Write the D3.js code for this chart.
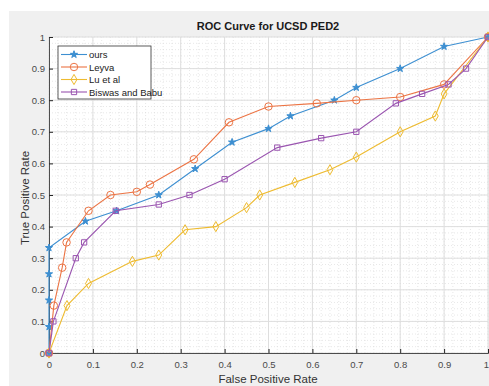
<!DOCTYPE html>
<html>
<head>
<meta charset="utf-8">
<script src="https://d3js.org/d3.v7.min.js"></script>
<style>
  body { margin: 0; background: #fff; }
  text { font-family: "Liberation Sans", Arial, sans-serif; }
</style>
</head>
<body>
<div id="chart"></div>
<script>
// ROC data
const oursX = [0, 0, 0, 0, 0, 0.083, 0.154, 0.25, 0.333, 0.417, 0.5, 0.55, 0.65, 0.7, 0.8, 0.9, 1];
const oursY = [0, 0.083, 0.167, 0.25, 0.333, 0.417, 0.45, 0.5, 0.583, 0.667, 0.71, 0.75, 0.80, 0.84, 0.9, 0.97, 1];
const leyvaX = [0, 0.011, 0.03, 0.04, 0.09, 0.14, 0.2, 0.23, 0.33, 0.41, 0.5, 0.61, 0.7, 0.8, 0.9, 1];
const leyvaY = [0, 0.15, 0.27, 0.35, 0.45, 0.5, 0.51, 0.533, 0.613, 0.73, 0.78, 0.79, 0.80, 0.81, 0.85, 1];
const luX = [0, 0.041, 0.09, 0.19, 0.25, 0.31, 0.38, 0.45, 0.48, 0.56, 0.64, 0.7, 0.8, 0.88, 0.9, 1];
const luY = [0, 0.15, 0.22, 0.29, 0.31, 0.39, 0.40, 0.46, 0.50, 0.54, 0.58, 0.62, 0.70, 0.75, 0.82, 1];
const biswasX = [0, 0.01, 0.061, 0.08, 0.152, 0.25, 0.32, 0.40, 0.52, 0.62, 0.70, 0.79, 0.85, 0.91, 0.95, 1];
const biswasY = [0, 0.10, 0.30, 0.35, 0.45, 0.47, 0.50, 0.55, 0.65, 0.68, 0.70, 0.79, 0.82, 0.85, 0.90, 1];

const seriesNames = ["ours", "Leyva", "Lu et al", "Biswas and Babu"];
const tickValues = [0, 0.1, 0.2, 0.3, 0.4, 0.5, 0.6, 0.7, 0.8, 0.9, 1];

const series = [
    { name: seriesNames[0], xs: oursX, ys: oursY, color: "#3d8fd1", symbol: d3.symbolStar, fill: true, size: 16 },
    { name: seriesNames[1], xs: leyvaX, ys: leyvaY, color: "#ec7444", symbol: d3.symbolCircle, fill: false, size: 44 },
    { name: seriesNames[2], xs: luX, ys: luY, color: "#eebb30", symbol: d3.symbolDiamond, fill: false, size: 30 },
    { name: seriesNames[3], xs: biswasX, ys: biswasY, color: "#9a55b0", symbol: d3.symbolSquare, fill: false, size: 28 }
];

const width = 489;
const height = 386;
const plotLeft = 49, plotRight = 488, plotTop = 37, plotBottom = 353;

const xScale = d3.scaleLinear().domain([0, 1]).range([plotLeft, plotRight]);
const yScale = d3.scaleLinear().domain([0, 1]).range([plotBottom, plotTop]);

const svg = d3.select("#chart")
    .append("svg")
    .attr("width", width)
    .attr("height", height);

// figure background
svg.append("rect")
    .attr("x", 9).attr("y", 11)
    .attr("width", width - 9).attr("height", height - 11)
    .attr("fill", "#f0f0f0");

// plot area
svg.append("rect")
    .attr("x", plotLeft).attr("y", plotTop)
    .attr("width", plotRight - plotLeft).attr("height", plotBottom - plotTop)
    .attr("fill", "#ffffff");

// minor grid
const minor = d3.range(0, 1.0001, 0.02);
const grid = svg.append("g");
grid.selectAll(".minx").data(minor).enter().append("line")
    .attr("x1", d => xScale(d)).attr("x2", d => xScale(d))
    .attr("y1", plotTop).attr("y2", plotBottom)
    .attr("stroke", "#d8d8d8").attr("stroke-width", 0.6)
    .attr("stroke-dasharray", "1,2");
grid.selectAll(".miny").data(minor).enter().append("line")
    .attr("y1", d => yScale(d)).attr("y2", d => yScale(d))
    .attr("x1", plotLeft).attr("x2", plotRight)
    .attr("stroke", "#d8d8d8").attr("stroke-width", 0.6)
    .attr("stroke-dasharray", "1,2");

// major grid
grid.selectAll(".majx").data(tickValues).enter().append("line")
    .attr("x1", d => xScale(d)).attr("x2", d => xScale(d))
    .attr("y1", plotTop).attr("y2", plotBottom)
    .attr("stroke", "#dedede").attr("stroke-width", 1);
grid.selectAll(".majy").data(tickValues).enter().append("line")
    .attr("y1", d => yScale(d)).attr("y2", d => yScale(d))
    .attr("x1", plotLeft).attr("x2", plotRight)
    .attr("stroke", "#dedede").attr("stroke-width", 1);

// axes
const fmt = d => d === 0 ? "0" : d === 1 ? "1" : d3.format(".1f")(d);
const xAxis = d3.axisBottom(xScale).tickValues(tickValues).tickFormat(fmt).tickSize(-4).tickPadding(8);
const yAxis = d3.axisLeft(yScale).tickValues(tickValues).tickFormat(fmt).tickSize(-4).tickPadding(4);

const xAxisGroup = svg.append("g")
    .attr("transform", `translate(0, ${plotBottom})`)
    .call(xAxis);
const yAxisGroup = svg.append("g")
    .attr("transform", `translate(${plotLeft}, 0)`)
    .call(yAxis);

[xAxisGroup, yAxisGroup].forEach(g => {
    g.select(".domain").attr("stroke", "#262626").attr("stroke-width", 0.8);
    g.selectAll(".tick line").attr("stroke", "#262626");
    g.selectAll("text").attr("fill", "#4a4a4a").style("font-size", "9.5px")
        .style("font-family", "'Liberation Sans', Arial, sans-serif");
});
// last x tick label sits on the right edge, keep it inside the window
xAxisGroup.selectAll(".tick text").filter(d => d === 1).attr("dx", "-2");

// lines and markers
const line = d3.line().x(d => xScale(d[0])).y(d => yScale(d[1]));

series.forEach(s => {
    const pts = s.xs.map((x, i) => [x, s.ys[i]]);
    svg.append("path")
        .datum(pts)
        .attr("d", line)
        .attr("fill", "none")
        .attr("stroke", s.color)
        .attr("stroke-width", 1.1);
    svg.selectAll(null)
        .data(pts)
        .enter()
        .append("path")
        .attr("transform", d => `translate(${xScale(d[0])},${yScale(d[1])})`)
        .attr("d", d3.symbol().type(s.symbol).size(s.size))
        .attr("fill", s.fill ? s.color : "none")
        .attr("stroke", s.color)
        .attr("stroke-width", 1);
});

// title and labels
svg.append("text")
    .attr("x", 268).attr("y", 30)
    .attr("text-anchor", "middle")
    .style("font-size", "11px").style("font-weight", "bold")
    .attr("fill", "#1a1a1a")
    .text("ROC Curve for UCSD PED2");

svg.append("text")
    .attr("x", 268).attr("y", 383)
    .attr("text-anchor", "middle")
    .style("font-size", "11.5px")
    .attr("fill", "#333")
    .text("False Positive Rate");

svg.append("text")
    .attr("transform", `translate(29, ${(plotTop + plotBottom) / 2 + 3}) rotate(-90)`)
    .attr("text-anchor", "middle")
    .style("font-size", "11.5px")
    .attr("fill", "#333")
    .text("True Positive Rate");

// legend
const legend = svg.append("g");
legend.append("rect")
    .attr("x", 58).attr("y", 46)
    .attr("width", 93).attr("height", 53)
    .attr("fill", "#fff")
    .attr("stroke", "#333").attr("stroke-width", 0.8);

series.forEach((s, i) => {
    const ly = 54.5 + i * 12.5;
    legend.append("line")
        .attr("x1", 61).attr("x2", 87)
        .attr("y1", ly).attr("y2", ly)
        .attr("stroke", s.color).attr("stroke-width", 1.1);
    legend.append("path")
        .attr("transform", `translate(74,${ly})`)
        .attr("d", d3.symbol().type(s.symbol).size(s.size))
        .attr("fill", s.fill ? s.color : "none")
        .attr("stroke", s.color);
    legend.append("text")
        .attr("x", 89).attr("y", ly + 3.5)
        .style("font-size", "9.5px")
        .attr("fill", "#222")
        .text(s.name);
});
</script>
</body>
</html>
